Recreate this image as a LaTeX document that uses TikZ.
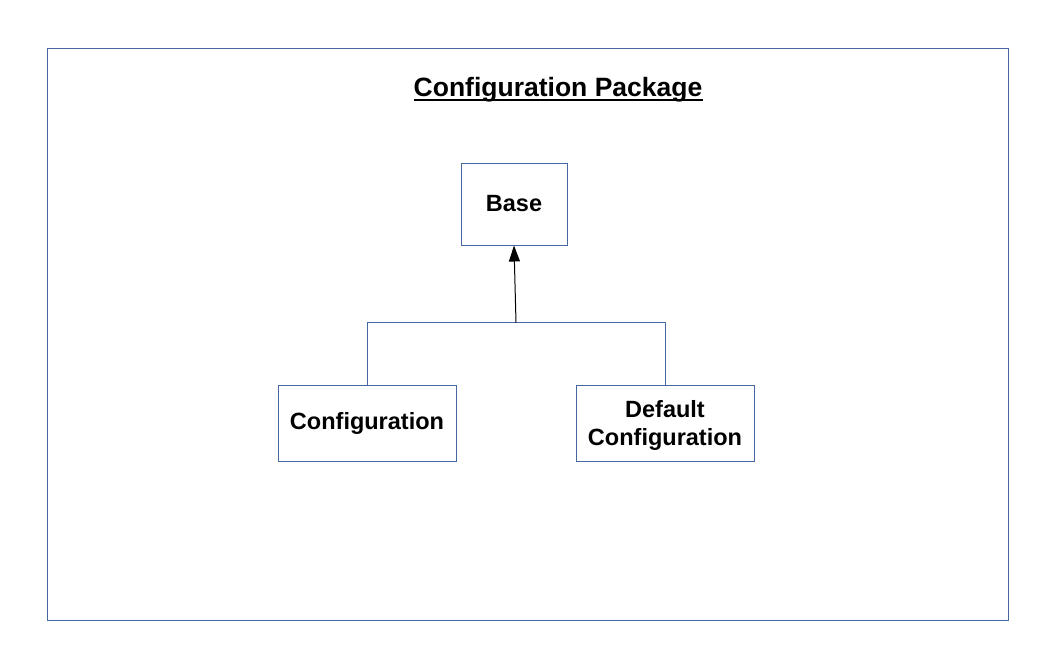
\documentclass[tikz,border=0pt]{standalone}
\usepackage{fontspec}
\setmainfont{Liberation Sans}
\usetikzlibrary{arrows.meta}
\definecolor{umlblue}{RGB}{70,104,160}
\tikzset{
  cls/.style={draw=umlblue, line width=1pt, fill=white, inner sep=0pt, font=\bfseries\fontsize{23.5}{28}\selectfont, align=center},
  gen/.style={draw=umlblue, line width=1pt},
  inh/.style={draw=black, line width=1pt, -{Triangle[length=16pt,width=11pt]}},
}
\begin{document}
\begin{tikzpicture}[x=1pt,y=-1pt]
\useasboundingbox (0,0) rectangle (1058,662);
\draw[umlblue, line width=1pt] (47.5,48.5) rectangle (1008.5,620.5);
\node[font=\bfseries\fontsize{26.5}{30}\selectfont, inner sep=0pt, anchor=base] (title) at (558,96) {Configuration Package};
\draw[line width=1.6pt] ([yshift=-4pt]title.base west) -- ([yshift=-4pt]title.base east);
\node[cls, minimum width=106pt, minimum height=82pt] (base) at (514,204) {\raisebox{-1.5pt}{Base}};
\node[cls, minimum width=178pt, minimum height=76pt] (conf) at (367,423) {\raisebox{-2pt}{Configuration}};
\node[cls, minimum width=178pt, minimum height=76pt, text depth=-2pt] (dconf) at (665,423) {Default\\Configuration};
\coordinate (join) at (516,322.5);
\draw[gen] (conf.north) -- (conf.north |- join) -- (dconf.north |- join) -- (dconf.north);
\draw[inh] (join) -- (base.south);
\end{tikzpicture}
\end{document}
